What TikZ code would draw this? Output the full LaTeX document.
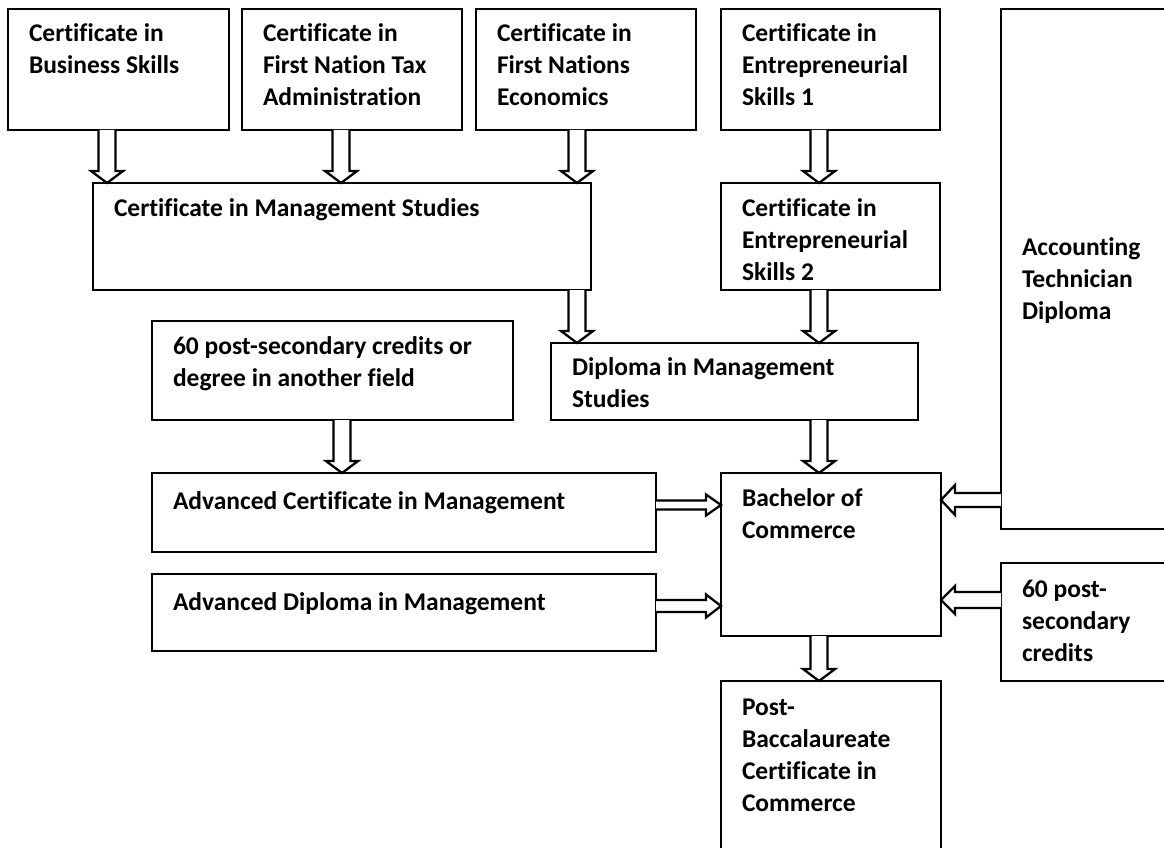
\documentclass[tikz,border=0pt]{standalone}
\usepackage{fontspec}
\setmainfont[Ligatures={NoCommon}]{Carlito}
\usetikzlibrary{calc}
\tikzset{
  box/.style={draw, line width=2.8pt, rectangle, inner sep=0pt, outer sep=0pt, anchor=north west},
  lbl/.style={anchor=north west, inner sep=0pt, outer sep=0pt, align=left,
    font=\bfseries\fontsize{25.5}{32}\selectfont, xshift=21pt},
  blk/.style={draw, line width=2.3pt, fill=white, line join=miter},
}
% name, x1, y1, x2, y2, first baseline offset, text
\newcommand{\mybox}[7]{%
  \node[box, minimum width={(#4-#2)*1pt}, minimum height={(#5-#3)*1pt},
    label={[lbl]north west:\rule{0pt}{#6pt}#7}] (#1) at (#2,#3) {};}
% from, to, x (pixel)
\newcommand{\varrow}[3]{%
  \draw[blk] let \p1=(#1.south), \p2=(#2.north) in
  (#3pt-8.5pt,\y1) -- (#3pt-8.5pt,\y2+12pt) -- (#3pt-16pt,\y2+12pt) -- (#3pt,\y2)
  -- (#3pt+16pt,\y2+12pt) -- (#3pt+8.5pt,\y2+12pt) -- (#3pt+8.5pt,\y1);}
% from, to, y (pixel), shaft half, head half  (pointing right)
\newcommand{\rarrow}[5]{%
  \draw[blk] let \p1=(#1.east), \p2=(#2.west) in
  (\x1,-#3pt+#4pt) -- (\x2-15pt,-#3pt+#4pt) -- (\x2-15pt,-#3pt+#5pt) -- (\x2,-#3pt)
  -- (\x2-15pt,-#3pt-#5pt) -- (\x2-15pt,-#3pt-#4pt) -- (\x1,-#3pt-#4pt);}
% from, to, y (pixel), shaft half, head half  (pointing left)
\newcommand{\larrow}[5]{%
  \draw[blk] let \p1=(#1.west), \p2=(#2.east) in
  (\x1,-#3pt+#4pt) -- (\x2+14pt,-#3pt+#4pt) -- (\x2+14pt,-#3pt+#5pt) -- (\x2,-#3pt)
  -- (\x2+14pt,-#3pt-#5pt) -- (\x2+14pt,-#3pt-#4pt) -- (\x1,-#3pt-#4pt);}
\begin{document}
\begin{tikzpicture}[x=1pt, y=-1pt]
\useasboundingbox (0,0) rectangle (1164,848);
\fill[white] (0,0) rectangle (1164,848);
\clip (0,0) rectangle (1164,848);

\mybox{bs}{8}{9}{229}{130}{33}{Certificate in\\Business Skills}
\mybox{tax}{242}{9}{462}{130}{33}{Certificate in\\First Nation Tax\\Administration}
\mybox{eco}{476}{9}{696}{130}{33}{Certificate in\\First Nations\\Economics}
\mybox{ent1}{721}{9}{940}{130}{33}{Certificate in\\Entrepreneurial\\Skills 1}
\mybox{acct}{1001}{9}{1190}{529}{246}{Accounting\\Technician\\Diploma}
\mybox{cms}{93}{183}{591}{290}{33}{Certificate in Management Studies}
\mybox{ent2}{721}{183}{940}{290}{33}{Certificate in\\Entrepreneurial\\Skills 2}
\mybox{sixty}{152}{321}{513}{420}{33}{60 post-secondary credits or\\degree in another field}
\mybox{dms}{551}{343}{918}{420}{32}{Diploma in Management\\Studies}
\mybox{acm}{152}{473}{656}{552}{36}{Advanced Certificate in Management}
\mybox{adm}{152}{574}{656}{651}{36}{Advanced Diploma in Management}
\mybox{bcom}{721}{473}{941}{636}{33}{Bachelor of\\Commerce}
\mybox{sixtyb}{1001}{563}{1190}{681}{34}{60 post-\\secondary\\credits}
\mybox{pbc}{721}{681}{941}{880}{34}{Post-\\Baccalaureate\\Certificate in\\Commerce}

\varrow{bs}{cms}{107}
\varrow{tax}{cms}{341}
\varrow{eco}{cms}{577}
\varrow{ent1}{ent2}{819}
\varrow{cms}{dms}{577}
\varrow{ent2}{dms}{819}
\varrow{sixty}{acm}{342}
\varrow{dms}{bcom}{819}
\varrow{bcom}{pbc}{819}
\rarrow{acm}{bcom}{505}{4.5}{10.5}
\rarrow{adm}{bcom}{606}{6}{11.5}
\larrow{acct}{bcom}{500}{7}{15}
\larrow{sixtyb}{bcom}{600}{8}{14}
\end{tikzpicture}
\end{document}
